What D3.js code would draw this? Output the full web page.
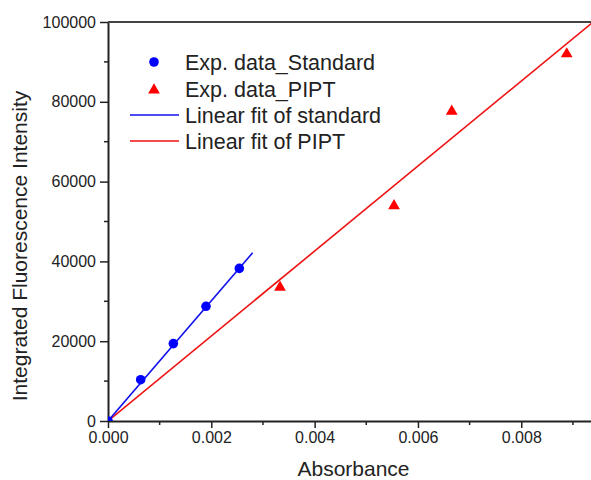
<!DOCTYPE html>
<html>
<head>
<meta charset="utf-8">
<script src="https://cdn.jsdelivr.net/npm/d3@7"></script>
<style>
  body { margin: 0; background: #fff; }
  svg { display: block; font-family: Arial, "Liberation Sans", sans-serif; }
</style>
</head>
<body>
<div id="chart"></div>
<script>
// values
var stdAbs = [0, 0.000633, 0.001265, 0.001897, 0.002542];
var stdInt = [0, 10350, 19400, 28750, 38250];
var piptAbs = [0.00333, 0.005537, 0.006654, 0.00888];
var piptInt = [33750, 54170, 77850, 92250];

// linear fits (slope, intercept, x range)
var stdFit = { slope: 15060000, intercept: 0, from: 0, to: 0.0028 };
var piptFit = { slope: 10650000, intercept: 0, from: 0, to: 0.0096 };

var xTicks = [0, 0.002, 0.004, 0.006, 0.008];
var yTicks = [0, 20000, 40000, 60000, 80000, 100000];

var legendLabels = ["Exp. data_Standard", "Exp. data_PIPT", "Linear fit of standard", "Linear fit of PIPT"];

var width = 591, height = 480;
var margin = { top: 22, right: 0, bottom: 60, left: 108 };

var svg = d3.select("#chart").append("svg")
    .attr("width", width)
    .attr("height", height);

var x = d3.scaleLinear().domain([0, 0.00935]).range([margin.left, width - margin.right]);
var y = d3.scaleLinear().domain([0, 100000]).range([height - margin.bottom + 1, margin.top]);

svg.append("defs").append("clipPath").attr("id", "plotclip")
    .append("rect")
    .attr("x", margin.left).attr("y", margin.top)
    .attr("width", width - margin.right - margin.left)
    .attr("height", y(0) - margin.top);

// minor ticks
var xMinor = d3.range(0.001, 0.0094, 0.002);
var yMinor = d3.range(10000, 100000, 20000);

svg.selectAll(".xminor").data(xMinor).enter().append("line")
    .attr("x1", d => x(d)).attr("x2", d => x(d))
    .attr("y1", y(0)).attr("y2", y(0) + 4)
    .attr("stroke", "#222").attr("stroke-width", 1.5);

svg.selectAll(".yminor").data(yMinor).enter().append("line")
    .attr("x1", x(0) - 4).attr("x2", x(0))
    .attr("y1", d => y(d)).attr("y2", d => y(d))
    .attr("stroke", "#222").attr("stroke-width", 1.5);

// axes
var xAxis = svg.append("g")
    .attr("transform", "translate(0," + y(0) + ")")
    .call(d3.axisBottom(x).tickValues(xTicks).tickFormat(d3.format(".3f")).tickSizeInner(7).tickSizeOuter(0).tickPadding(4));

var yAxis = svg.append("g")
    .attr("transform", "translate(" + x(0) + ",0)")
    .call(d3.axisLeft(y).tickValues(yTicks).tickFormat(d3.format("d")).tickSizeInner(8).tickSizeOuter(0).tickPadding(4));

[xAxis, yAxis].forEach(function (g) {
    g.select(".domain").attr("stroke", "#222").attr("stroke-width", 2);
    g.selectAll(".tick line").attr("stroke", "#222").attr("stroke-width", 1.5);
    g.selectAll(".tick text").attr("fill", "#222").style("font-size", "16px");
});

// top frame line
svg.append("line")
    .attr("x1", x(0)).attr("x2", width)
    .attr("y1", y(100000)).attr("y2", y(100000))
    .attr("stroke", "#444").attr("stroke-width", 2);

// axis titles
svg.append("text")
    .attr("x", (x(0) + width) / 2 + 4)
    .attr("y", 476)
    .attr("text-anchor", "middle")
    .style("font-size", "21px")
    .attr("fill", "#222")
    .text("Absorbance");

svg.append("text")
    .attr("transform", "translate(27," + 246 + ") rotate(-90)")
    .attr("text-anchor", "middle")
    .style("font-size", "21px")
    .attr("fill", "#222")
    .text("Integrated Fluorescence Intensity");

var plot = svg.append("g").attr("clip-path", "url(#plotclip)");

// fit lines
function fitLine(f) {
    return [[f.from, f.intercept + f.slope * f.from], [f.to, f.intercept + f.slope * f.to]];
}
var line = d3.line().x(d => x(d[0])).y(d => y(d[1]));

plot.append("path").datum(fitLine(piptFit))
    .attr("d", line).attr("fill", "none")
    .attr("stroke", "#ee1111").attr("stroke-width", 1.6);

plot.append("path").datum(fitLine(stdFit))
    .attr("d", line).attr("fill", "none")
    .attr("stroke", "#1111ee").attr("stroke-width", 1.6);

// points
var tri = d3.symbol().type(d3.symbolTriangle).size(60);

plot.selectAll(".std").data(stdAbs).enter().append("circle")
    .attr("cx", d => x(d))
    .attr("cy", (d, i) => y(stdInt[i]))
    .attr("r", 4.8)
    .attr("fill", "#0000ff");

plot.selectAll(".pipt").data(piptAbs).enter().append("path")
    .attr("d", tri)
    .attr("transform", (d, i) => "translate(" + x(d) + "," + (y(piptInt[i]) + 1) + ")")
    .attr("fill", "#ff0000");

// legend
var lg = svg.append("g");
var rowY = [62, 89, 115, 141];

lg.append("circle").attr("cx", 154).attr("cy", rowY[0]).attr("r", 4.8).attr("fill", "#0000ff");
lg.append("path").attr("d", tri).attr("transform", "translate(154," + (rowY[1] + 1) + ")").attr("fill", "#ff0000");
lg.append("line").attr("x1", 130).attr("x2", 179).attr("y1", rowY[2]).attr("y2", rowY[2])
    .attr("stroke", "#1111ee").attr("stroke-width", 1.6);
lg.append("line").attr("x1", 130).attr("x2", 179).attr("y1", rowY[3]).attr("y2", rowY[3])
    .attr("stroke", "#ee1111").attr("stroke-width", 1.6);

lg.selectAll(".lt").data(legendLabels).enter().append("text")
    .attr("x", 185)
    .attr("y", (d, i) => rowY[i] + 7.5)
    .style("font-size", "21.5px")
    .attr("fill", "#222")
    .text(d => d);
</script>
</body>
</html>
